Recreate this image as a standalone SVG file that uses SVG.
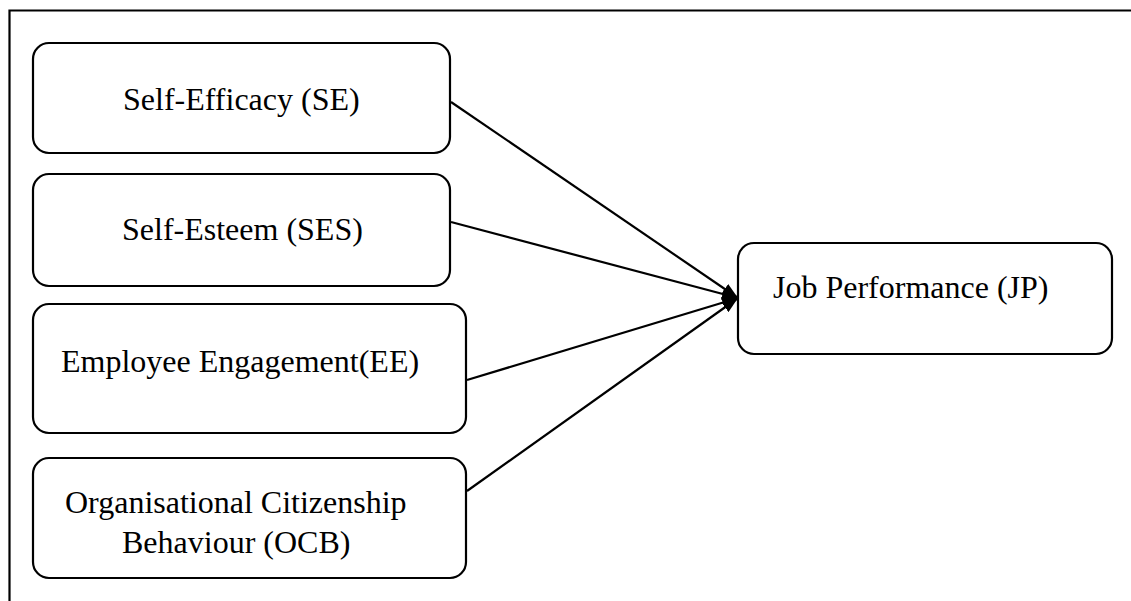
<svg xmlns="http://www.w3.org/2000/svg" width="1131" height="601" viewBox="0 0 1131 601">
<style>
.box{fill:#fff;stroke:#000;stroke-width:2.2}
.lbl{font-family:"Liberation Serif","Times New Roman",serif;font-size:32px;fill:#000}
.edge{stroke:#000;stroke-width:2.2;fill:none}
</style>
<defs>
<marker id="ah" viewBox="0 0 16 12" refX="16" refY="6" markerWidth="16" markerHeight="12" markerUnits="userSpaceOnUse" orient="auto">
<path d="M0,0 L16,6 L0,12 z" fill="#000"/>
</marker>
</defs>
<rect width="1131" height="601" fill="#fff"/>
<path d="M9.5,601 V10.5 H1131" fill="none" stroke="#000" stroke-width="2.2"/>
<g id="se"><rect class="box" x="33" y="43" width="417" height="110" rx="16"/><text class="lbl" x="123" y="110">Self-Efficacy (SE)</text></g>
<g id="ses"><rect class="box" x="33" y="174" width="417" height="112" rx="16"/><text class="lbl" x="122" y="240">Self-Esteem (SES)</text></g>
<g id="ee"><rect class="box" x="33" y="304" width="433" height="129" rx="16"/><text class="lbl" x="61" y="372">Employee Engagement(EE)</text></g>
<g id="ocb"><rect class="box" x="33" y="458" width="433" height="120" rx="16"/><text class="lbl" x="65" y="513">Organisational Citizenship</text><text class="lbl" x="122" y="553">Behaviour (OCB)</text></g>
<g id="jp"><rect class="box" x="738" y="243" width="374" height="111" rx="16"/><text class="lbl" x="773" y="298">Job Performance (JP)</text></g>
<g id="connectors">
<line class="edge" x1="451" y1="102" x2="738" y2="298" marker-end="url(#ah)"/>
<line class="edge" x1="451" y1="222" x2="738" y2="298" marker-end="url(#ah)"/>
<line class="edge" x1="467" y1="380" x2="738" y2="298" marker-end="url(#ah)"/>
<line class="edge" x1="467" y1="491" x2="738" y2="298" marker-end="url(#ah)"/>
</g>
</svg>
